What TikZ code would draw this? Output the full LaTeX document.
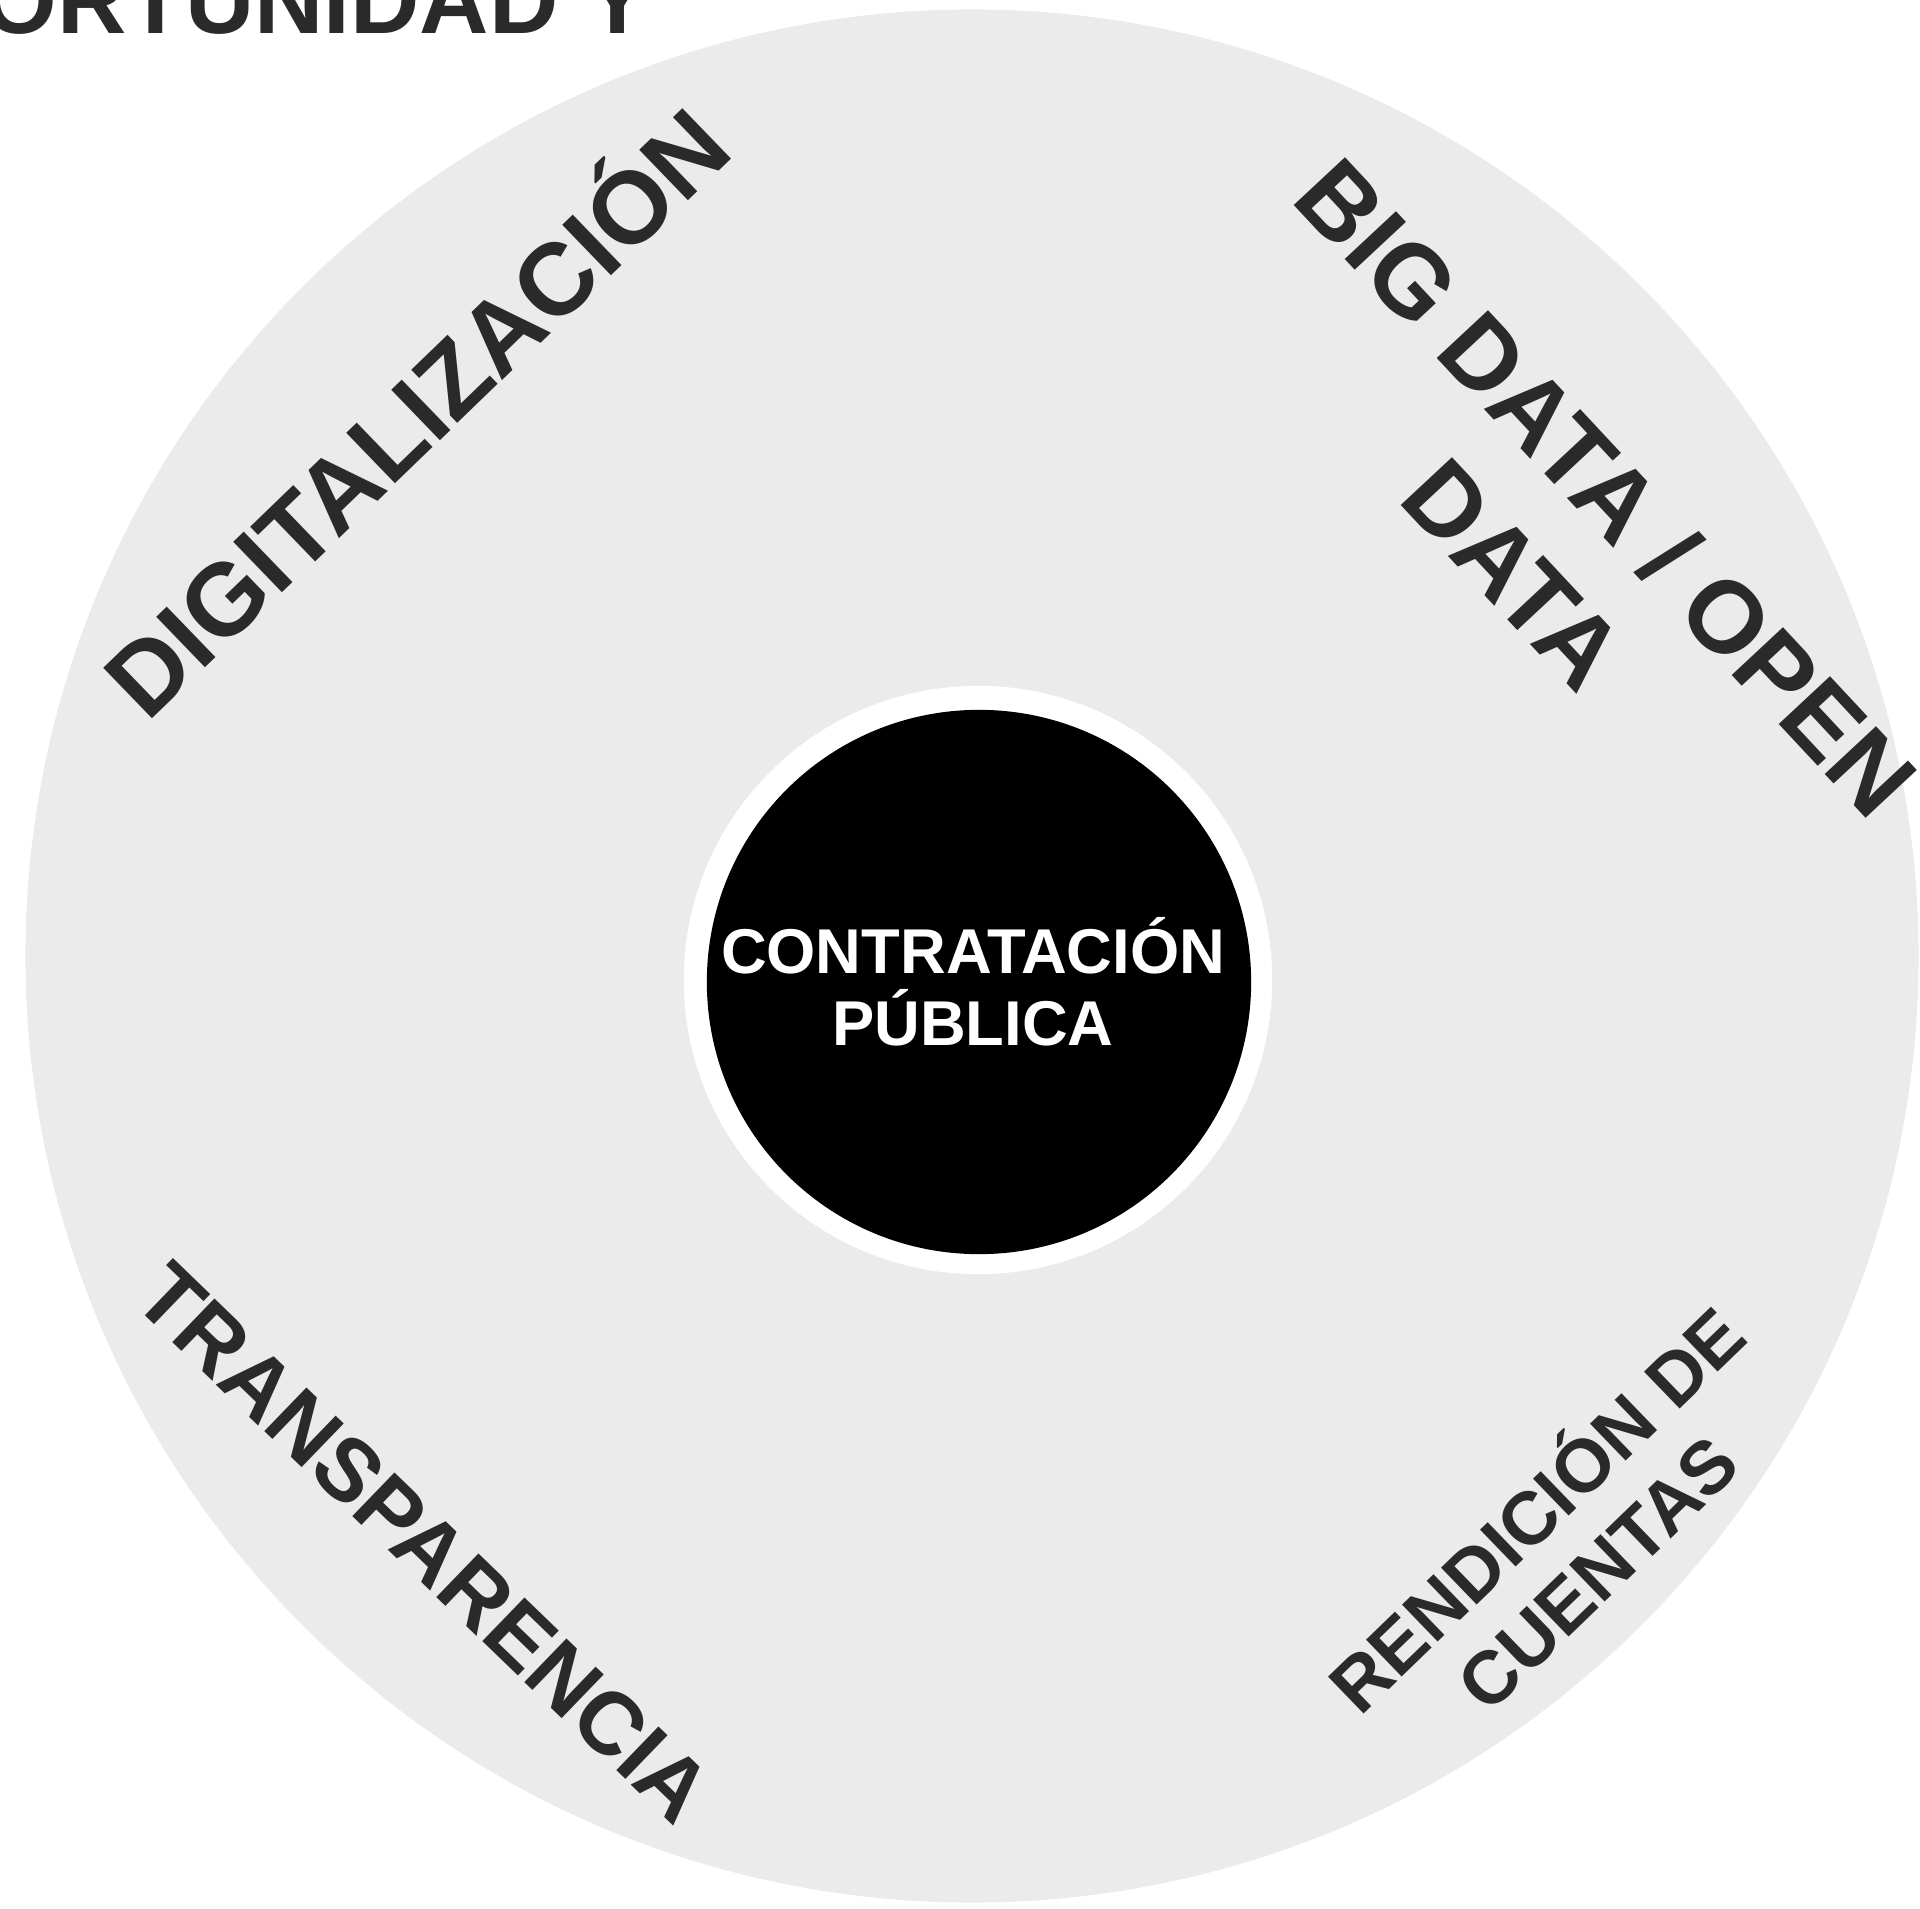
\documentclass[tikz,border=0pt]{standalone}
\usepackage{fontspec}
\setmainfont{Liberation Sans}
\definecolor{discgray}{HTML}{EBEBEB}
\definecolor{inkgray}{HTML}{2A2A2A}
\tikzset{
  disc/.style={circle, inner sep=0pt, fill=discgray},
  lbl/.style={text=inkgray, inner sep=0pt, align=center},
}
\begin{document}
\begin{tikzpicture}[x=0.01cm, y=-0.01cm]
  \useasboundingbox (0,0) rectangle (1920,1909);
  % TITLE (cut at the top edge)
  \node[lbl, anchor=base east, font=\bfseries\fontsize{27.3}{32}\selectfont] (title) at (650,33) {ORTUNIDAD Y};
  % DISC
  \node[disc, minimum size=18.92cm] (outer) at (972,956) {};
  % -- white ring and core
  \node[circle, inner sep=0pt, fill=white, minimum size=5.88cm] (ring) at (978,980) {};
  \node[circle, inner sep=0pt, fill=black, minimum size=5.44cm] (core) at (979,982) {};
  \node[text=white, inner sep=0pt, align=center,
        font=\bfseries\fontsize{18}{20.5}\selectfont] (coretext) at (973,982) {CONTRATACIÓN\\PÚBLICA};
  % LABELS
  \node[lbl, rotate=44, font=\bfseries\fontsize{29}{35}\selectfont] (digi) at (411,407) {DIGITALIZACIÓN};
  \node[lbl, rotate=-47, font=\bfseries\fontsize{29}{36}\selectfont] (bigdata) at (1561,530) {BIG DATA / OPEN\\DATA};
  \node[lbl, rotate=-44, font=\bfseries\fontsize{25.1}{30}\selectfont] (transp) at (424,1543) {TRANSPARENCIA};
  \node[lbl, rotate=44, font=\bfseries\fontsize{21.2}{24.8}\selectfont] (rendic) at (1563,1537) {RENDICIÓN DE\\CUENTAS};
\end{tikzpicture}
\end{document}
